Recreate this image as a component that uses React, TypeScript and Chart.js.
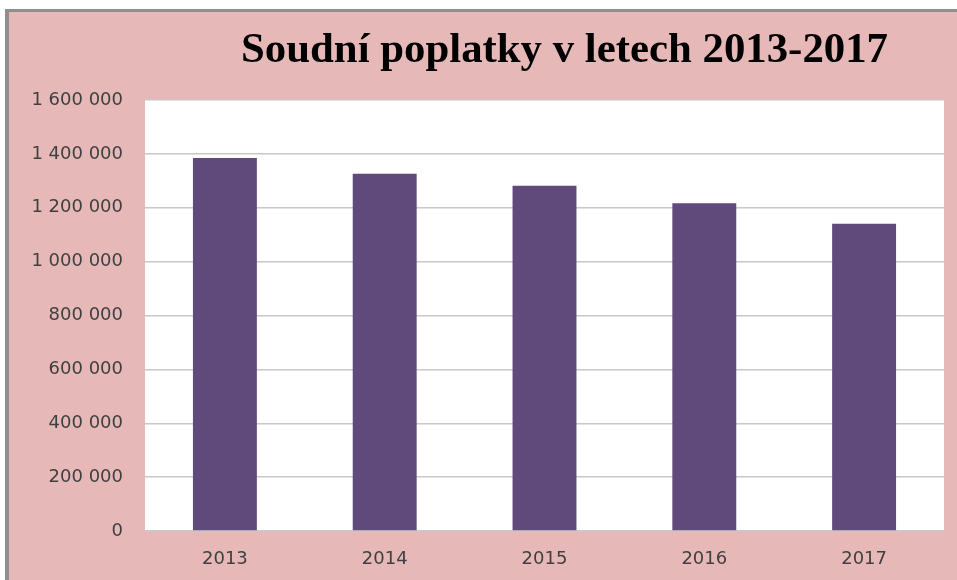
import React, { useEffect, useRef } from "react";
import { Chart, registerables } from "chart.js";

Chart.register(...registerables);

const TITLE = "Soudní poplatky v letech 2013-2017";
const YEARS = ["2013", "2014", "2015", "2016", "2017"];
const FEES = [1385000, 1326000, 1282000, 1217000, 1141000];
const Y_MAX = 1600000;
const Y_STEP = 200000;

const PINK = "#e6b9b8";
const BAR = "#5f4a7b";
const LABEL = "#404040";

const fmt = (v: number) =>
  String(Math.round(v)).replace(/\B(?=(\d{3})+(?!\d))/g, " ");

const framePlugin = {
  id: "frame",
  beforeDraw(chart: any) {
    const { ctx, width, height, chartArea } = chart;
    ctx.save();
    ctx.fillStyle = "#ffffff";
    ctx.fillRect(0, 0, width, height);
    ctx.fillStyle = "#8f8f8f";
    ctx.fillRect(5, 9, width - 5, height - 9);
    ctx.fillStyle = PINK;
    ctx.fillRect(9, 12, width - 9, height - 12);
    ctx.fillStyle = "#ffffff";
    ctx.fillRect(
      chartArea.left,
      chartArea.top,
      chartArea.right - chartArea.left,
      chartArea.bottom - chartArea.top
    );
    ctx.restore();
  },
  afterDraw(chart: any) {
    const { ctx } = chart;
    ctx.save();
    ctx.font = "bold 42px 'Liberation Serif', 'Times New Roman', serif";
    ctx.fillStyle = "#000000";
    ctx.textBaseline = "alphabetic";
    ctx.textAlign = "left";
    const w = ctx.measureText(TITLE).width;
    const target = 647;
    const sx = target / w;
    ctx.translate(241, 62);
    ctx.scale(sx, 1);
    ctx.fillText(TITLE, 0, 0);
    ctx.restore();
  },
};

export default function App() {
  const ref = useRef<HTMLCanvasElement | null>(null);

  useEffect(() => {
    document.body.style.margin = "0";
    const canvas = ref.current;
    if (!canvas) return;
    const chart = new Chart(canvas, {
      type: "bar",
      data: {
        labels: YEARS,
        datasets: [
          {
            label: "Soudní poplatky",
            data: FEES,
            backgroundColor: BAR,
            borderWidth: 0,
            barPercentage: 0.4,
            categoryPercentage: 1,
          },
        ],
      },
      options: {
        animation: false,
        responsive: false,
        maintainAspectRatio: false,
        devicePixelRatio: 1,
        layout: { padding: { top: 100, right: 13, bottom: 0, left: 0 } },
        plugins: {
          legend: { display: false },
          title: { display: false },
          tooltip: { enabled: false },
        },
        scales: {
          x: {
            grid: { display: false, drawTicks: false },
            border: { display: false },
            ticks: {
              color: LABEL,
              padding: 18,
              font: { family: "'DejaVu Sans', sans-serif", size: 18 },
            },
            afterFit(scale: any) {
              scale.height = 49;
            },
          },
          y: {
            min: 0,
            max: Y_MAX,
            grid: { color: "#c8c8c8", lineWidth: 1.5, drawTicks: false },
            border: { display: false },
            ticks: {
              stepSize: Y_STEP,
              color: LABEL,
              padding: 22,
              font: { family: "'DejaVu Sans', sans-serif", size: 18 },
              callback: (v: any) => fmt(Number(v)),
            },
            afterFit(scale: any) {
              scale.width = 145;
            },
          },
        },
      },
      plugins: [framePlugin],
    });
    return () => chart.destroy();
  }, []);

  return (
    <div style={{ position: "absolute", left: 0, top: 0, width: 957, height: 580 }}>
      <canvas ref={ref} width={957} height={580} style={{ display: "block" }} />
    </div>
  );
}
